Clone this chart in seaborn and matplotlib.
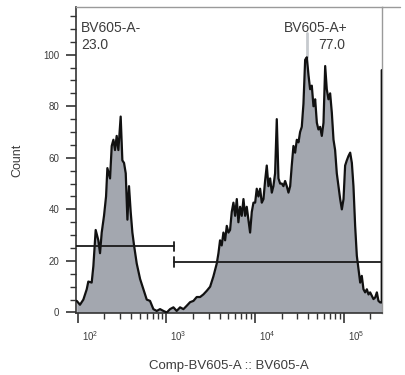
import numpy as np
import matplotlib
matplotlib.use("Agg")
import matplotlib.pyplot as plt
import matplotlib.transforms as mtransforms
from matplotlib.ticker import FixedLocator, LogLocator, NullFormatter
import seaborn as sns

# ---- data ----
log_x = [1.989, 2.026, 2.064, 2.102, 2.120, 2.158, 2.177, 2.203, 2.233, 2.252,
         2.271, 2.297, 2.320, 2.335, 2.365, 2.384, 2.403, 2.421, 2.440, 2.459,
         2.485, 2.504, 2.523, 2.542, 2.561, 2.579, 2.598, 2.617, 2.636, 2.666,
         2.704, 2.741, 2.779, 2.816, 2.854, 2.892, 2.929, 2.967, 3.005, 3.042,
         3.080, 3.117, 3.155, 3.193, 3.230, 3.268, 3.306, 3.343, 3.381, 3.418,
         3.456, 3.494, 3.531, 3.569, 3.588, 3.606, 3.625, 3.644, 3.663, 3.682,
         3.701, 3.719, 3.738, 3.757, 3.776, 3.795, 3.813, 3.832, 3.851, 3.870,
         3.889, 3.907, 3.926, 3.945, 3.964, 3.983, 4.002, 4.020, 4.039, 4.058,
         4.077, 4.096, 4.114, 4.133, 4.152, 4.171, 4.190, 4.208, 4.227, 4.246,
         4.265, 4.284, 4.303, 4.321, 4.340, 4.359, 4.378, 4.397, 4.415, 4.434,
         4.453, 4.472, 4.491, 4.509, 4.528, 4.547, 4.566, 4.585, 4.604, 4.622,
         4.641, 4.660, 4.679, 4.698, 4.716, 4.735, 4.754, 4.773, 4.792, 4.810,
         4.829, 4.848, 4.867, 4.886, 4.904, 4.923, 4.942, 4.961, 4.980, 4.999,
         5.017, 5.036, 5.055, 5.074, 5.093, 5.111, 5.130, 5.149, 5.168, 5.187,
         5.205, 5.224, 5.243, 5.262, 5.281, 5.299, 5.318, 5.337, 5.356, 5.375,
         5.393, 5.412, 5.430, 5.430]
counts = [4.5, 3, 5, 9, 12, 11.6, 18, 32, 28, 23,
          31, 37.5, 45, 56, 52, 64.6, 67, 63, 68.5, 63,
          76, 59, 58, 54, 36, 49, 39, 31, 26, 19,
          13, 9, 5, 4.5, 1.3, 0.6, 1.3, 0.6, 0, 1.3,
          2, 0.6, 2, 1.3, 2.6, 4, 4.5, 6, 6, 7,
          8.4, 10, 14, 19, 23, 28, 26, 31, 28, 33.6,
          31, 32, 39, 42.6, 37.5, 44, 35, 41, 37.5, 44,
          37.5, 41, 36, 31, 39, 42.6, 42.6, 48, 45, 48,
          42.6, 44, 51, 57, 49, 52, 46.5, 49, 54, 75,
          52, 50, 50, 49, 51, 49, 46.5, 49, 57, 64.6,
          62, 67, 66, 70, 72, 81, 98, 99, 92, 86.6,
          88, 80, 82.7, 73.6, 71, 72, 68.5, 73.6, 95.6, 86.6,
          82.7, 85, 77.5, 67, 63, 54, 49, 44, 40, 44,
          57, 59, 60.7, 62, 58, 49, 33.6, 22, 16.8, 11.6,
          14.2, 9, 7.8, 9, 7, 7.8, 6.5, 5.2, 5.8, 7.8,
          4.5, 3.9, 3.9, 94]

gate_names = ["BV605-A-", "BV605-A+"]
gate_pcts = ["23.0", "77.0"]
gate_lo = [10 ** 1.981, 10 ** 3.083]
gate_hi = [10 ** 3.083, 10 ** 5.431]
gate_y = [25.6, 19.5]

x_major = [1e2, 1e3, 1e4, 1e5]
x_major_labels = ["$10^{2}$", "$10^{3}$", "$10^{4}$", "$10^{5}$"]
y_major = [0, 20, 40, 60, 80, 100]
y_minor = list(range(0, 120, 5))

xlabel = "Comp-BV605-A :: BV605-A"
ylabel = "Count"

# ---- plot ----
sns.set_style("ticks")
plt.rcParams["font.family"] = ["Liberation Sans", "DejaVu Sans"]
plt.rcParams["mathtext.fontset"] = "custom"
plt.rcParams["mathtext.rm"] = "Liberation Sans"
plt.rcParams["mathtext.it"] = "Liberation Sans"

txt_col = "#3c3c3c"
fig = plt.figure(figsize=(4.05, 3.75), dpi=100)
ax = fig.add_axes([76 / 405, 1 - 313 / 375, 306 / 405, 306 / 375])

x = np.power(10.0, np.array(log_x))
y = np.array(counts)
ax.fill_between(x, 0, y, color="#a3a7af", lw=0, zorder=1)
sns.lineplot(x=x, y=y, ax=ax, estimator=None, sort=False, color="#111111",
             lw=1.6, zorder=3)

# label leader line (light gray) at the positive peak
ax.plot([10 ** 4.585, 10 ** 4.585], [99, 108.6], color="#c6cace", lw=2, zorder=2)

# gates
for lo, hi, gy in zip(gate_lo, gate_hi, gate_y):
    ax.plot([lo, hi], [gy, gy], color="#1a1a1a", lw=1.3, zorder=4)
ax.plot([gate_hi[0]] * 2, [gate_y[0] - 1.6, gate_y[0] + 1.6], color="#1a1a1a", lw=1.3, zorder=4)
ax.plot([gate_lo[1]] * 2, [gate_y[1] - 2.0, gate_y[1] + 2.0], color="#1a1a1a", lw=1.3, zorder=4)

ax.set_xscale("log")
ax.set_xlim(10 ** 1.981, 10 ** 5.433)
ax.set_ylim(-0.2, 118.5)

ax.xaxis.set_major_locator(FixedLocator(x_major))
ax.set_xticklabels(x_major_labels)
ax.xaxis.set_minor_locator(LogLocator(base=10, subs=np.arange(2, 10), numticks=20))
ax.xaxis.set_minor_formatter(NullFormatter())
ax.set_yticks(y_major)
ax.set_yticklabels([str(v) for v in y_major])
ax.yaxis.set_minor_locator(FixedLocator(y_minor))

ax.tick_params(axis="both", which="major", length=7, width=1.2, color="#333333",
               labelsize=7, labelcolor=txt_col)
ax.tick_params(axis="both", which="minor", length=4, width=1.0, color="#333333")
ax.tick_params(axis="x", which="major", pad=5)
ax.tick_params(axis="y", which="major", pad=5)

offset = mtransforms.ScaledTranslation(4 / 100, 0, fig.dpi_scale_trans)
for lab in ax.get_xticklabels():
    lab.set_horizontalalignment("left")
    lab.set_transform(lab.get_transform() + offset)

for side in ["left", "bottom"]:
    ax.spines[side].set_color("#333333")
    ax.spines[side].set_linewidth(1.2)
for side in ["top", "right"]:
    ax.spines[side].set_visible(True)
    ax.spines[side].set_color("#9a9a9a")
    ax.spines[side].set_linewidth(1.0)

# top line extending beyond the frame
fig.add_artist(plt.Line2D([382 / 405, 400 / 405], [1 - 7 / 375, 1 - 7 / 375],
                          color="#9a9a9a", lw=1.0))

ax.set_xlabel(xlabel, fontsize=9.5, color=txt_col, labelpad=12)
ax.set_ylabel(ylabel, fontsize=9, color=txt_col, labelpad=14)

ax.text(0.016, 0.931, gate_names[0], transform=ax.transAxes, fontsize=10,
        color=txt_col, ha="left", va="center")
ax.text(0.016, 0.876, gate_pcts[0], transform=ax.transAxes, fontsize=10,
        color=txt_col, ha="left", va="center")
ax.text(0.784, 0.931, gate_names[1], transform=ax.transAxes, fontsize=10,
        color=txt_col, ha="center", va="center")
ax.text(0.879, 0.876, gate_pcts[1], transform=ax.transAxes, fontsize=10,
        color=txt_col, ha="right", va="center")

fig.savefig("out.png", dpi=100)
